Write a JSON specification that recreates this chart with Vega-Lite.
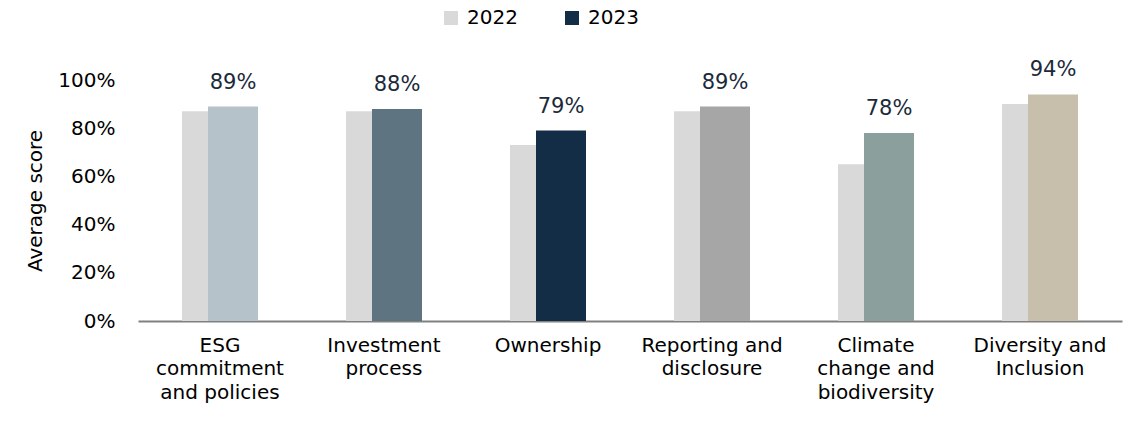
{
  "$schema": "https://vega.github.io/schema/vega-lite/v6.json",
  "width": 984,
  "height": 241,
  "autosize": "none",
  "padding": {"left": 138, "top": 80, "right": 23, "bottom": 103},
  "config": {"view": {"stroke": null}, "font": "DejaVu Sans"},
  "data": {
    "values": [
      {"category": "ESG commitment and policies", "year": "2022", "value": 0.87},
      {"category": "Investment process", "year": "2022", "value": 0.87},
      {"category": "Ownership", "year": "2022", "value": 0.73},
      {"category": "Reporting and disclosure", "year": "2022", "value": 0.87},
      {"category": "Climate change and biodiversity", "year": "2022", "value": 0.65},
      {"category": "Diversity and Inclusion", "year": "2022", "value": 0.90},
      {"category": "ESG commitment and policies", "year": "2023", "value": 0.89},
      {"category": "Investment process", "year": "2023", "value": 0.88},
      {"category": "Ownership", "year": "2023", "value": 0.79},
      {"category": "Reporting and disclosure", "year": "2023", "value": 0.89},
      {"category": "Climate change and biodiversity", "year": "2023", "value": 0.78},
      {"category": "Diversity and Inclusion", "year": "2023", "value": 0.94}
    ]
  },
  "encoding": {
    "x": {
      "field": "category",
      "type": "nominal",
      "sort": null,
      "scale": {"paddingInner": 0, "paddingOuter": 0},
      "axis": {
        "title": null,
        "labelAngle": 0,
        "labelFontSize": 20,
        "labelColor": "#000000",
        "labelPadding": 14,
        "labelBaseline": "top",
        "labelLineHeight": 23.5,
        "labelOverlap": false,
        "labelLimit": 0,
        "ticks": false,
        "domainColor": "#808080",
        "domainWidth": 2,
        "labelExpr": "datum.value == 'ESG commitment and policies' ? ['ESG','commitment','and policies'] : datum.value == 'Investment process' ? ['Investment','process'] : datum.value == 'Reporting and disclosure' ? ['Reporting and','disclosure'] : datum.value == 'Climate change and biodiversity' ? ['Climate','change and','biodiversity'] : datum.value == 'Diversity and Inclusion' ? ['Diversity and','Inclusion'] : datum.value"
      }
    },
    "y": {
      "field": "value",
      "type": "quantitative",
      "scale": {"domain": [0, 1]},
      "axis": {
        "title": "Average score",
        "format": ".0%",
        "values": [0, 0.2, 0.4, 0.6, 0.8, 1],
        "domain": false,
        "ticks": false,
        "grid": false,
        "labelFontSize": 20,
        "labelPadding": 23,
        "labelColor": "#000000",
        "titleFontSize": 20,
        "titleFontWeight": "normal",
        "titleColor": "#000000",
        "titlePadding": 12
      }
    }
  },
  "layer": [
    {
      "transform": [{"filter": "datum.year == '2022'"}],
      "mark": {"type": "bar", "width": 50, "xOffset": -13},
      "encoding": {
        "color": {
          "field": "year",
          "type": "nominal",
          "scale": {"domain": ["2022", "2023"], "range": ["#d9d9d9", "#132d46"]},
          "legend": {
            "orient": "none",
            "legendX": 303,
            "legendY": -72,
            "direction": "horizontal",
            "title": null,
            "symbolType": "square",
            "symbolSize": 196,
            "symbolStrokeWidth": 0,
            "labelFontSize": 20,
            "labelColor": "#000000",
            "labelOffset": 6,
            "columnPadding": 44
          }
        }
      }
    },
    {
      "transform": [{"filter": "datum.year == '2023'"}],
      "mark": {"type": "bar", "width": 50, "xOffset": 13},
      "encoding": {
        "fill": {
          "field": "category",
          "type": "nominal",
          "sort": null,
          "scale": {
            "domain": ["ESG commitment and policies", "Investment process", "Ownership", "Reporting and disclosure", "Climate change and biodiversity", "Diversity and Inclusion"],
            "range": ["#b5c2ca", "#5e7480", "#132d46", "#a6a6a6", "#8ba09c", "#c7bfab"]
          },
          "legend": null
        }
      }
    },
    {
      "transform": [{"filter": "datum.year == '2023'"}],
      "mark": {"type": "text", "xOffset": 13, "dy": -18, "baseline": "alphabetic", "fontSize": 21, "color": "#1b2a3a"},
      "encoding": {
        "text": {"field": "value", "type": "quantitative", "format": ".0%"}
      }
    }
  ]
}
